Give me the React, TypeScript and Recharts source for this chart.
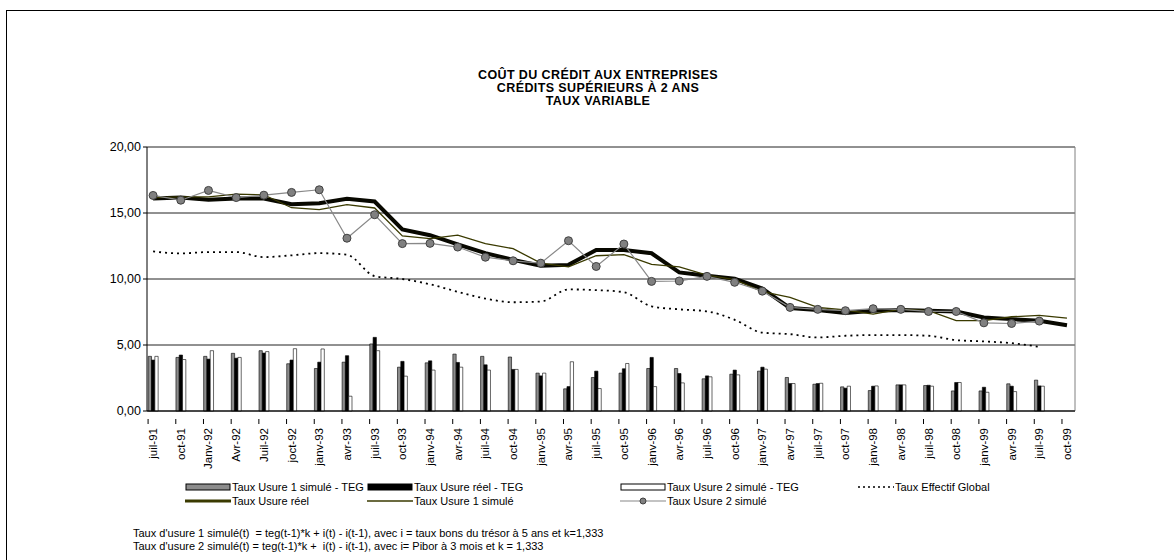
import { ComposedChart, Bar, Line, XAxis, YAxis, CartesianGrid, ReferenceLine } from "recharts";

const categories = [
  "juil-91", "oct-91", "Janv-92", "Avr-92", "Juil-92", "joct-92", "janv-93", "avr-93", "juil-93", "oct-93",
  "janv-94", "avr-94", "juil-94", "oct-94", "janv-95", "avr-95", "juil-95", "oct-95", "janv-96", "avr-96",
  "juil-96", "oct-96", "janv-97", "avr-97", "juil-97", "oct-97", "janv-98", "avr-98", "juil-98", "oct-98",
  "janv-99", "avr-99", "juil-99", "oct-99",
];

const usureReel = [
  16.1, 16.17, 16.0, 16.1, 16.1, 15.66, 15.74, 16.07, 15.87, 13.75, 13.32, 12.63, 11.96, 11.45, 11.0, 11.07,
  12.2, 12.2, 11.95, 10.5, 10.25, 10.03, 9.27, 7.8, 7.65, 7.42, 7.6, 7.65, 7.6, 7.54, 7.09, 6.96, 6.84, 6.5,
];
const usure1Simule = [
  16.17, 16.22, 16.22, 16.43, 16.38, 15.4, 15.26, 15.64, 15.38, 13.27, 13.06, 13.32, 12.68, 12.3, 11.2, 10.92,
  11.76, 11.85, 11.1, 10.92, 10.3, 9.95, 9.05, 8.61, 7.85, 7.65, 7.34, 7.72, 7.6, 6.84, 6.84, 7.14, 7.24, 7.04,
];
const usure2Simule = [
  16.33, 15.97, 16.71, 16.17, 16.35, 16.56, 16.76, 13.09, 14.87, 12.68, 12.7, 12.42, 11.65, 11.38, 11.2, 12.9,
  10.95, 12.65, 9.82, 9.85, 10.2, 9.75, 9.08, 7.85, 7.7, 7.6, 7.75, 7.7, 7.54, 7.54, 6.68, 6.63, 6.81, null,
];
const tauxEffectif = [
  12.09, 11.94, 12.04, 12.04, 11.66, 11.79, 11.96, 11.84, 10.22, 10.0, 9.6, 9.03, 8.52, 8.24, 8.29, 9.21,
  9.16, 9.0, 7.93, 7.7, 7.55, 6.91, 5.94, 5.82, 5.57, 5.7, 5.75, 5.75, 5.7, 5.37, 5.27, 5.14, 4.86, null,
];

// écarts usure - TEG (barres)
const ecart1 = [
  4.14, 4.06, 4.14, 4.37, 4.57, 3.58, 3.22, 3.7, 5.08, 3.32, 3.65, 4.31, 4.14, 4.09, 2.87, 1.68, 2.54, 2.87,
  3.22, 3.22, 2.44, 2.79, 3.02, 2.54, 2.03, 1.83, 1.55, 1.98, 1.93, 1.52, 1.52, 2.06, 2.34, null,
];
const ecartReel = [
  3.86, 4.24, 3.93, 4.0, 4.39, 3.86, 3.7, 4.19, 5.58, 3.76, 3.8, 3.68, 3.5, 3.15, 2.66, 1.85, 3.02, 3.2,
  4.06, 2.84, 2.66, 3.1, 3.32, 2.08, 2.08, 1.73, 1.88, 1.98, 1.95, 2.16, 1.8, 1.88, 1.9, null,
];
const ecart2 = [
  4.14, 3.9, 4.57, 4.06, 4.5, 4.72, 4.7, 1.12, 4.57, 2.64, 3.1, 3.32, 3.1, 3.15, 2.87, 3.73, 1.7, 3.6,
  1.85, 2.13, 2.59, 2.74, 3.17, 2.08, 2.1, 1.88, 1.9, 1.98, 1.88, 2.16, 1.42, 1.47, 1.88, null,
];

const yTicks = [0, 5, 10, 15, 20];

const FONT = 'Arial, "Liberation Sans", sans-serif';
const OLIVE = "#3a3a00";

const data = categories.map((label, i) => ({
  idx: i,
  label,
  ecart1: ecart1[i],
  ecartReel: ecartReel[i],
  ecart2: ecart2[i],
  usureReel: usureReel[i],
  usure1: usure1Simule[i],
  usure2: usure2Simule[i],
  teg: tauxEffectif[i],
}));

function CatTick(props: any) {
  const { x, y, payload } = props;
  return (
    <g transform={`translate(${x},${y})`}>
      <line x1={-5} y1={0} x2={-5} y2={5} stroke="#000" />
      <text
        transform="rotate(-90)"
        x={-9}
        y={4}
        textAnchor="end"
        fontSize={11.5}
        fontFamily={FONT}
        fill="#000"
      >
        {categories[payload.value]}
      </text>
    </g>
  );
}

function LegendItem({ x, y, icon, label }: { x: number; y: number; icon: React.ReactNode; label: string }) {
  return (
    <div style={{ position: "absolute", left: x, top: y - 7, height: 14, display: "flex", alignItems: "center" }}>
      <svg width={46} height={14} style={{ display: "block" }}>
        {icon}
      </svg>
      <span style={{ fontSize: 11, whiteSpace: "nowrap", marginLeft: 1 }}>{label}</span>
    </div>
  );
}

export default function App() {
  return (
    <div
      style={{
        position: "absolute",
        left: 0,
        top: 0,
        width: 1174,
        height: 560,
        overflow: "hidden",
        background: "#fff",
        fontFamily: FONT,
        color: "#000",
      }}
    >
      <div
        style={{
          position: "absolute",
          left: 6,
          top: 10,
          width: 1200,
          height: 600,
          border: "1px solid #000",
        }}
      />
      <div
        style={{
          position: "absolute",
          left: 348,
          top: 69,
          width: 500,
          textAlign: "center",
          fontSize: 12.5,
          fontWeight: "bold",
          lineHeight: "13px",
          letterSpacing: "0.4px",
        }}
      >
        <div>COÛT DU CRÉDIT AUX ENTREPRISES</div>
        <div>CRÉDITS SUPÉRIEURS À 2 ANS</div>
        <div>TAUX VARIABLE</div>
      </div>

      <div style={{ position: "absolute", left: 0, top: 0 }}>
        <ComposedChart
          width={1174}
          height={560}
          data={data}
          margin={{ top: 147, right: 99, bottom: 89, left: 0 }}
          barGap={0}
        >
          <CartesianGrid horizontal vertical={false} stroke="#222" />
          <XAxis
            type="number"
            dataKey="idx"
            domain={[-0.22, 33.29]}
            allowDataOverflow
            ticks={categories.map((_, i) => i)}
            interval={0}
            tick={<CatTick />}
            tickLine={false}
            axisLine={{ stroke: "#000" }}
            height={60}
          />
          <YAxis
            width={147}
            domain={[0, 20]}
            ticks={yTicks}
            interval={0}
            tickFormatter={(v: number) => v.toFixed(2).replace(".", ",")}
            tick={{ fill: "#000", fontSize: 12.5, fontFamily: FONT }}
            tickLine={{ stroke: "#000" }}
            tickSize={4}
            axisLine={{ stroke: "#000" }}
          />
          <ReferenceLine x={33.29} stroke="#808080" />
          <Bar dataKey="ecart1" barSize={3.3} fill="#8c8c8c" stroke="#000" strokeWidth={0.6} isAnimationActive={false} />
          <Bar dataKey="ecartReel" barSize={3.3} fill="#000" stroke="#000" strokeWidth={0.6} isAnimationActive={false} />
          <Bar dataKey="ecart2" barSize={3.3} fill="#fff" stroke="#000" strokeWidth={0.6} isAnimationActive={false} />
          <Line
            type="monotone"
            dataKey="teg"
            stroke="#000"
            strokeWidth={1.8}
            strokeDasharray="2 4"
            dot={false}
            isAnimationActive={false}
          />
          <Line type="linear" dataKey="usureReel" stroke="#080800" strokeWidth={4} dot={false} isAnimationActive={false} />
          <Line type="linear" dataKey="usure1" stroke={OLIVE} strokeWidth={1.3} dot={false} isAnimationActive={false} />
          <Line
            type="linear"
            dataKey="usure2"
            stroke="#888"
            strokeWidth={1.2}
            dot={{ r: 4, fill: "#808080", stroke: "#404040", strokeWidth: 1 }}
            isAnimationActive={false}
          />
        </ComposedChart>
      </div>

      <LegendItem x={185} y={487} label="Taux Usure 1 simulé - TEG" icon={<rect x={1} y={4} width={44} height={6} fill="#8c8c8c" stroke="#000" />} />
      <LegendItem x={367} y={487} label="Taux Usure réel - TEG" icon={<rect x={1} y={4} width={44} height={6} fill="#000" stroke="#000" />} />
      <LegendItem x={620} y={487} label="Taux Usure 2 simulé - TEG" icon={<rect x={1} y={4} width={44} height={6} fill="#fff" stroke="#000" />} />
      <LegendItem x={848} y={487} label="Taux Effectif Global" icon={<line x1={10} y1={7} x2={46} y2={7} stroke="#000" strokeWidth={1.3} strokeDasharray="2 3" />} />
      <LegendItem x={185} y={501} label="Taux Usure réel" icon={<line x1={0} y1={7} x2={46} y2={7} stroke={OLIVE} strokeWidth={3} />} />
      <LegendItem x={367} y={501} label="Taux Usure 1 simulé" icon={<line x1={0} y1={7} x2={46} y2={7} stroke={OLIVE} strokeWidth={1.3} />} />
      <LegendItem
        x={620}
        y={501}
        label="Taux Usure 2 simulé"
        icon={
          <g>
            <line x1={0} y1={7} x2={46} y2={7} stroke="#888" strokeWidth={1.2} />
            <circle cx={23} cy={7} r={3} fill="#808080" stroke="#404040" />
          </g>
        }
      />

      <div style={{ position: "absolute", left: 133, top: 527, fontSize: 11, lineHeight: "13px", whiteSpace: "pre" }}>
        <div>Taux d'usure 1 simulé(t)  = teg(t-1)*k + i(t) - i(t-1), avec i = taux bons du trésor à 5 ans et k=1,333</div>
        <div>Taux d'usure 2 simulé(t) = teg(t-1)*k +  i(t) - i(t-1), avec i= Pibor à 3 mois et k = 1,333</div>
      </div>
    </div>
  );
}
